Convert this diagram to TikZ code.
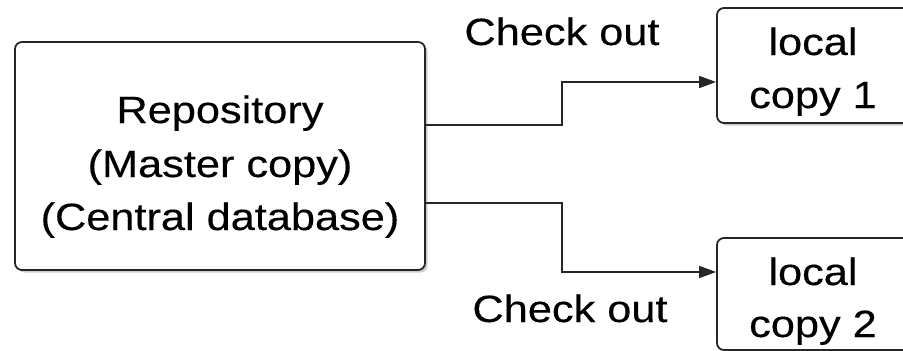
\documentclass[tikz,border=0pt]{standalone}
\usepackage{fontspec}
\setmainfont{Liberation Sans}[FakeStretch=1.14, FakeBold=0.3]
\usetikzlibrary{arrows.meta,shadows}
\tikzset{
  box/.style={draw=black!85, line width=1.8pt, rounded corners=7pt, fill=white,
    inner sep=0pt,
    drop shadow={shadow xshift=2.5pt, shadow yshift=-2.5pt, opacity=0.2, fill=black}},
  txt/.style={anchor=base, inner sep=0pt, font=\fontsize{38}{53}\selectfont},
  conn/.style={draw=black!85, line width=1.6pt,
    -{Triangle[length=17pt,width=12pt]}}
}
\begin{document}
\begin{tikzpicture}[x=1pt,y=-1pt]
  \useasboundingbox (0,0) rectangle (903,351);
  \clip (0,0) rectangle (903,351);

  % central repository
  \node[box, minimum width=410pt, minimum height=228pt] (repo) at (220,156) {};
  \node[txt] (r1) at (220,123) {Repository};
  \node[txt] (r2) at (220,177) {(Master copy)};
  \node[txt] (r3) at (220,230) {(Central database)};

  % local working copies (running past the right edge)
  \node[box, minimum width=193pt, minimum height=115pt] (lc1) at (813.5,65.5) {};
  \node[txt] (l1a) at (813,55) {local};
  \node[txt] (l1b) at (813,108) {copy 1};

  \node[box, minimum width=193pt, minimum height=112pt] (lc2) at (813.5,294) {};
  \node[txt] (l2a) at (813,285) {local};
  \node[txt] (l2b) at (813,337) {copy 2};

  % check-out connectors
  \coordinate (o1) at (repo.east |- 0,125);
  \coordinate (o2) at (repo.east |- 0,203);
  \coordinate (i1) at (lc1.west |- 0,82);
  \coordinate (i2) at (lc2.west |- 0,272);
  \draw[conn] (o1) -- (562,125) |- (i1);
  \draw[conn] (o2) -- (562,203) |- (i2);

  \node[txt] (co1) at (562,45) {Check out};
  \node[txt] (co2) at (570,322) {Check out};
\end{tikzpicture}
\end{document}
